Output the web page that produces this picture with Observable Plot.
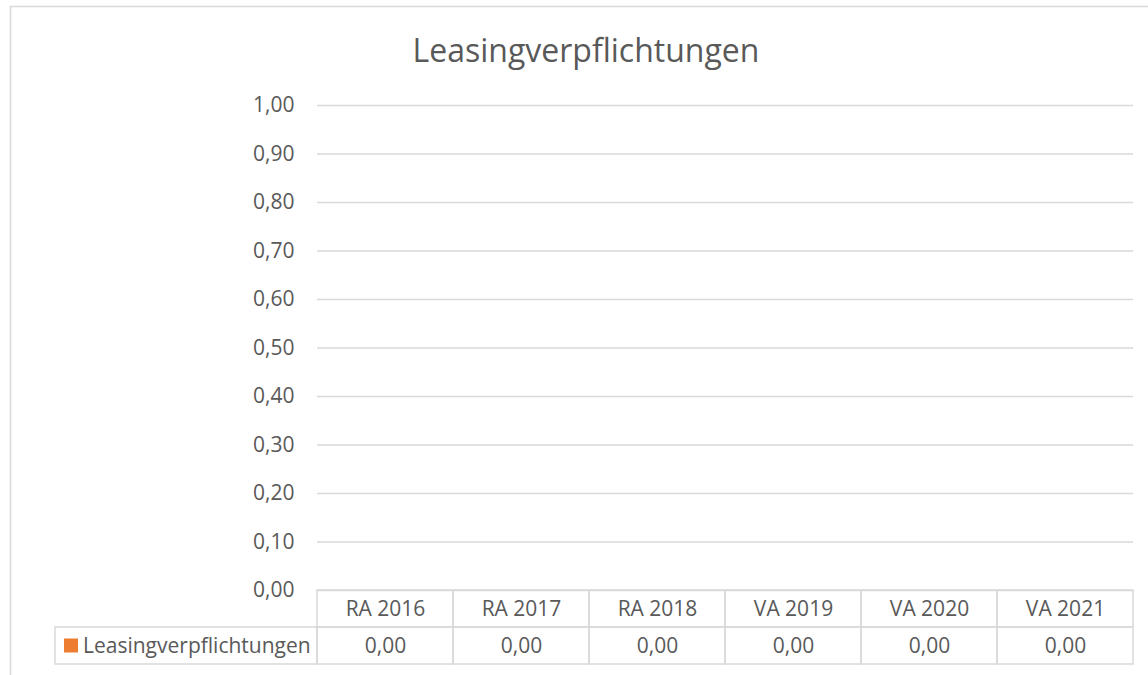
<!DOCTYPE html>
<html><head><meta charset="utf-8">
<script src="https://cdn.jsdelivr.net/npm/d3@7"></script>
<script src="https://cdn.jsdelivr.net/npm/@observablehq/plot@0.6"></script>
<style>body{margin:0;background:#fff}</style>
</head><body><div id="chart"></div>
<script>
const title = "Leasingverpflichtungen";
const seriesName = "Leasingverpflichtungen";
const categories = ["RA 2016","RA 2017","RA 2018","VA 2019","VA 2020","VA 2021"];
const values = [0,0,0,0,0,0];
const yTicks = [0,0.1,0.2,0.3,0.4,0.5,0.6,0.7,0.8,0.9,1.0];

const fmt = d3.formatLocale({decimal:",",thousands:".",grouping:[3],currency:["","€"]}).format(".2f");
const data = categories.map((c,i)=>({cat:c, value: values[i]}));

const TEXT="#595959", LINE="#D9D9D9", ORANGE="#ED7D31";
const rowH = 37;

function decor(index, scales, vals, dim) {
  const g = d3.create("svg:g");
  const y0 = scales.y(0);
  g.append("path").attr("d", `M10.5,${dim.height} V6.5 H${dim.width}`).attr("fill","none").attr("stroke",LINE).attr("stroke-width",1.5);
  g.append("text").attr("x",586).attr("y",62).attr("text-anchor","middle").attr("font-size",32).attr("fill",TEXT).text(title);
  const lx = 55, rx = dim.marginLeft;
  g.append("rect").attr("x",lx).attr("y",y0+rowH).attr("width",rx-lx).attr("height",rowH).attr("fill","none").attr("stroke",LINE).attr("stroke-width",1.5);
  g.append("rect").attr("x",64).attr("y",y0+rowH+11.5).attr("width",14).attr("height",14).attr("fill",ORANGE);
  g.append("text").attr("x",83).attr("y",y0+rowH*1.5).attr("dy","0.35em").attr("text-anchor","start").attr("font-size",21).attr("fill",TEXT).text(seriesName);
  return g.node();
}

const chart = Plot.plot({
  width:1148, height:675,
  marginLeft:317, marginRight:15, marginTop:105, marginBottom:85,
  style:{fontFamily:"'Open Sans', sans-serif", background:"#fff", overflow:"visible"},
  x:{type:"band", domain:categories, padding:0, axis:null},
  y:{domain:[0,1], axis:null},
  marks:[
    Plot.ruleY(yTicks,{stroke:LINE,strokeWidth:1.5}),
    Plot.axisY(yTicks,{tickSize:0,tickPadding:23,tickFormat:fmt,fontSize:21,fill:TEXT,label:null}),
    Plot.barY(data,{x:"cat",y:"value",fill:ORANGE}),
    Plot.barY(categories,{x:d=>d,y1:()=>0,y2:()=>0,insetBottom:-rowH,fill:"none",stroke:LINE,strokeWidth:1.5}),
    Plot.barY(categories,{x:d=>d,y1:()=>0,y2:()=>0,insetBottom:-rowH,dy:rowH,fill:"none",stroke:LINE,strokeWidth:1.5}),
    Plot.text(categories,{x:d=>d,y:()=>0,dy:rowH/2,fontSize:21,fill:TEXT}),
    Plot.text(data,{x:"cat",y:()=>0,dy:rowH*1.5,text:d=>fmt(d.value),fontSize:21,fill:TEXT}),
    decor
  ]
});
document.getElementById("chart").appendChild(chart);
</script>
</body></html>
